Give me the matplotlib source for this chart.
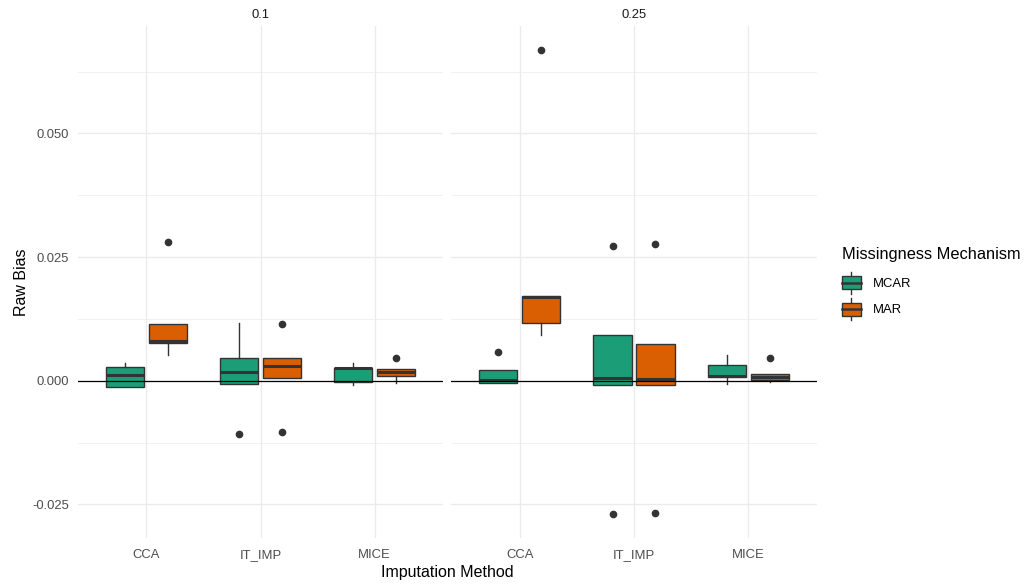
import matplotlib
matplotlib.use('Agg')
import matplotlib.pyplot as plt
import matplotlib.transforms as mtransforms
from matplotlib.legend_handler import HandlerBase
from matplotlib.patches import Rectangle, Patch
from matplotlib.lines import Line2D
from matplotlib.ticker import FixedLocator, FuncFormatter

plt.rcParams['font.family'] = ['Liberation Sans', 'DejaVu Sans']

# ---------------- data ----------------
facets = ['0.1', '0.25']
methods = ['CCA', 'IT_IMP', 'MICE']
mechanisms = ['MCAR', 'MAR']
colors = ['#1B9E77', '#D95F02']

# facet 0.1, MCAR
p1_mcar_lo = [-0.00133, -0.00061, -0.00093]
p1_mcar_q1 = [-0.00133, -0.00061, -0.00020]
p1_mcar_med = [0.00109, 0.00176, 0.00247]
p1_mcar_q3 = [0.00283, 0.00459, 0.00263]
p1_mcar_hi = [0.00352, 0.01172, 0.00352]
p1_mcar_out = [[], [-0.01077], []]
# facet 0.1, MAR
p1_mar_lo = [0.00519, 0.00049, -0.00046]
p1_mar_q1 = [0.00756, 0.00049, 0.00095]
p1_mar_med = [0.00808, 0.00291, 0.00170]
p1_mar_q3 = [0.01152, 0.00459, 0.00230]
p1_mar_hi = [0.01152, 0.00459, 0.00230]
p1_mar_out = [[0.0280], [0.01152, -0.01031], [0.00465]]
# facet 0.25, MCAR
p2_mcar_lo = [-0.00040, -0.00093, -0.00073]
p2_mcar_q1 = [-0.00040, -0.00093, 0.00069]
p2_mcar_med = [0.00014, 0.00055, 0.00101]
p2_mcar_q3 = [0.00210, 0.00924, 0.00323]
p2_mcar_hi = [0.00210, 0.00924, 0.00513]
p2_mcar_out = [[0.0058], [0.02728, -0.0270], []]
# facet 0.25, MAR
p2_mar_lo = [0.00918, -0.00093, -0.00026]
p2_mar_q1 = [0.01172, -0.00093, 0.00014]
p2_mar_med = [0.01692, 0.00034, 0.00069]
p2_mar_q3 = [0.01718, 0.00742, 0.00141]
p2_mar_hi = [0.01718, 0.00742, 0.00141]
p2_mar_out = [[0.06683], [0.02757, -0.0268], [0.00465]]

y_ticks = [-0.025, 0.0, 0.025, 0.050]
y_minor = [-0.0125, 0.0125, 0.0375, 0.0625]

panel_data = [
    [(p1_mcar_lo, p1_mcar_q1, p1_mcar_med, p1_mcar_q3, p1_mcar_hi, p1_mcar_out),
     (p1_mar_lo, p1_mar_q1, p1_mar_med, p1_mar_q3, p1_mar_hi, p1_mar_out)],
    [(p2_mcar_lo, p2_mcar_q1, p2_mcar_med, p2_mcar_q3, p2_mcar_hi, p2_mcar_out),
     (p2_mar_lo, p2_mar_q1, p2_mar_med, p2_mar_q3, p2_mar_hi, p2_mar_out)],
]

# ---------------- figure ----------------
W, H = 1027, 587
fig = plt.figure(figsize=(W / 100, H / 100), dpi=100)

def px_axes(x0, x1, y0, y1):
    return fig.add_axes([x0 / W, 1 - y1 / H, (x1 - x0) / W, (y1 - y0) / H])

axes = [px_axes(78, 443, 26, 538), px_axes(451, 817, 26, 538)]

edge = '#333333'
dodge = 0.1875
bw = 0.3375
tick_col = '#4D4D4D'

for k, ax in enumerate(axes):
    ax.set_xlim(0.4, 3.6)
    ax.set_ylim(-0.0318, 0.0717)
    for s in ax.spines.values():
        s.set_visible(False)
    ax.set_axisbelow(True)
    ax.yaxis.set_major_locator(FixedLocator(y_ticks))
    ax.yaxis.set_minor_locator(FixedLocator(y_minor))
    ax.set_xticks(range(1, len(methods) + 1))
    ax.set_xticklabels(methods)
    ax.grid(which='major', color='#EBEBEB', linewidth=1.0)
    ax.grid(which='minor', axis='y', color='#EFEFEF', linewidth=0.6)
    ax.tick_params(which='both', length=0)
    ax.tick_params(axis='x', labelsize=9.4, labelcolor=tick_col, pad=8)
    ax.tick_params(axis='y', labelsize=9.4, labelcolor=tick_col, pad=6.3)
    if k == 0:
        ax.yaxis.set_major_formatter(FuncFormatter(lambda v, p: f'{v:.3f}'))
    else:
        ax.set_yticklabels([])

    for m, (lo, q1, med, q3, hi, out) in enumerate(panel_data[k]):
        stats = []
        for i in range(len(methods)):
            stats.append(dict(whislo=lo[i], q1=q1[i], med=med[i], q3=q3[i],
                              whishi=hi[i], fliers=out[i]))
        pos = [i + 1 + (2 * m - 1) * dodge for i in range(len(methods))]
        ax.bxp(stats, positions=pos, widths=bw, patch_artist=True,
               showcaps=False, manage_ticks=False,
               boxprops=dict(facecolor=colors[m], edgecolor=edge, linewidth=1.0),
               medianprops=dict(color=edge, linewidth=2.2),
               whiskerprops=dict(color=edge, linewidth=1.0),
               flierprops=dict(marker='o', markerfacecolor=edge,
                               markeredgecolor=edge, markersize=4.5))
    ax.axhline(0, color='black', linewidth=0.9, zorder=6)

    trans = mtransforms.blended_transform_factory(ax.transAxes, fig.transFigure)
    ax.text(0.5, 1 - 15 / H, facets[k], transform=trans, ha='center',
            va='center', fontsize=9.4, color='#1A1A1A')

fig.text(447.5 / W, 1 - 572 / H, 'Imputation Method', ha='center', va='center',
         fontsize=11.5, color='black')
fig.text(21 / W, 1 - 282 / H, 'Raw Bias', ha='center', va='center',
         rotation=90, fontsize=11.5, color='black')


# ---------------- legend ----------------
class BoxKeyHandler(HandlerBase):
    def create_artists(self, legend, orig_handle, xdescent, ydescent, width,
                       height, fontsize, trans):
        x0, y0 = -xdescent, -ydescent
        fc = orig_handle.get_facecolor()
        xm = x0 + width / 2
        b0, b1 = y0 + height * 0.2, y0 + height * 0.8
        rect = Rectangle((x0, b0), width, b1 - b0, facecolor=fc,
                         edgecolor=edge, linewidth=1.0, transform=trans)
        med = Line2D([x0, x0 + width], [y0 + height / 2] * 2, color=edge,
                     linewidth=1.8, transform=trans)
        w1 = Line2D([xm, xm], [y0, b0], color=edge, linewidth=1.0, transform=trans)
        w2 = Line2D([xm, xm], [b1, y0 + height], color=edge, linewidth=1.0,
                    transform=trans)
        return [w1, w2, rect, med]


fig.text(842 / W, 1 - 254 / H, 'Missingness Mechanism', ha='left',
         va='center', fontsize=11.8, color='black')
handles = [Patch(facecolor=c) for c in colors]
leg = fig.legend(handles, mechanisms, loc='center left',
                 bbox_to_anchor=(842 / W, 1 - 296 / H), frameon=False,
                 borderpad=0, borderaxespad=0, fontsize=9.4,
                 handlelength=1.45, handleheight=2.2,
                 handletextpad=0.9, labelspacing=0.35,
                 handler_map={Patch: BoxKeyHandler()})

fig.savefig('out.png', dpi=100)
